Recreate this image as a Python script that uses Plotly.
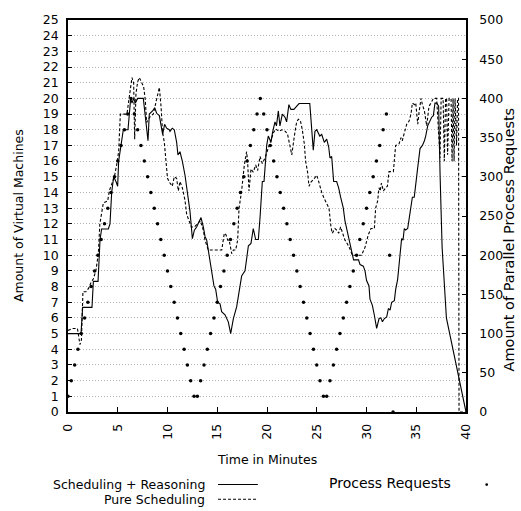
import plotly.graph_objects as go

# ---------------- data ----------------
# Scheduling + Reasoning (VMs)
sr_t = [0, 1.31, 1.47, 2.41, 2.55, 3.02, 3.22, 3.38, 4.05, 4.22, 4.39, 4.59, 4.82, 4.99, 5.09, 5.33,
        5.56, 6.03, 6.16, 6.30, 6.43, 6.60, 6.77, 7.00, 7.57, 8.04, 8.17, 8.50, 8.71, 8.91, 9.18,
        9.51, 9.71, 9.91, 10.18, 10.25, 10.48, 10.68, 10.92, 11.05, 11.25, 11.49, 11.76, 12.03,
        12.26, 12.50, 12.70, 12.93, 13.37, 13.60, 13.77, 13.94, 14.17, 14.44, 14.67, 14.84, 15.04,
        15.28, 15.44, 15.78, 16.11, 16.35, 16.62, 16.95, 17.19, 17.45, 17.79, 18.13, 18.39, 18.62,
        18.86, 19.13, 19.30, 19.53, 19.70, 19.87, 19.97, 20.13, 20.40, 20.55, 20.80, 20.95, 21.14,
        21.30, 21.54, 21.81, 21.97, 22.20, 22.40, 22.70, 22.98, 23.22, 24.30, 24.65, 24.82, 25.00,
        25.30, 25.50, 25.76, 26.00, 26.20, 26.33, 26.50, 26.70, 27.00, 27.20, 27.40, 27.67, 27.83,
        28.10, 28.34, 28.57, 28.70, 29.20, 29.35, 29.68, 29.85, 30.00, 30.25, 30.35, 30.59, 30.79,
        31.02, 31.26, 31.45, 31.60, 31.80, 32.03, 32.20, 32.37, 32.53, 32.80, 32.93, 33.13, 33.27,
        33.40, 33.53, 33.67, 33.80, 33.94, 34.14, 34.28, 34.47, 34.61, 34.80, 34.95, 35.15, 35.38,
        35.62, 35.82, 35.95, 36.15, 36.38, 36.55, 36.72, 36.88, 37.05, 37.25, 37.40, 37.60, 38.03,
        40.00]
sr_v = [5, 5, 6.67, 6.67, 8.33, 8.33, 11.0, 11.67, 11.67, 12, 14, 15, 14.7, 14.4, 16, 17,
        18, 18, 19, 20, 19.7, 20, 19.7, 20, 20, 17.3, 19, 19.2, 19.4, 19.05, 18.9,
        17.7, 18.35, 18.1, 18, 17.9, 18.1, 18, 17.2, 16.4, 16.6, 16, 15.1, 13.9,
        12.8, 11.06, 11.6, 11.8, 12.4, 11.8, 11.2, 10.96, 10.1, 9.1, 8.04, 7.83, 7.0,
        6.9, 6.4, 6.2, 5.75, 5.0, 5.96, 6.7, 7.6, 8.67, 9, 10.6, 10.75, 11.7,
        11, 11, 12.4, 14.7, 14.7, 16.6, 17, 17.6, 17.2, 17.8, 18.5, 18.25, 19.2,
        18.25, 19, 18.8, 18.5, 19.6, 19.3, 19.3, 19.5, 19.67, 19.67, 16.7, 17.9, 18,
        17.6, 17.7, 17.2, 17.4, 16.9, 16.2, 16.3, 14.7, 14.7, 14.3, 13.7, 13.0, 12.2,
        11.4, 10.75, 10.0, 9.7, 9.7, 9.4, 9.3, 9.0, 8.4, 8.04, 7.2, 6.8, 6.17,
        5.33, 5.96, 6.0, 5.75, 5.96, 6.06, 6.6, 6.5, 7.0, 7.1, 7.8, 8.46, 9.3,
        9.9, 11.06, 10.96, 11.7, 11.6, 11.7, 12.3, 13.0, 13.7, 13.7, 14.7, 15.6, 16.8,
        17.0, 17.3, 17.6, 18.25, 18.6, 18.8, 18.9, 19.7, 19.7, 19.5, 15.0, 10.5, 6.0,
        0]

# Pure Scheduling (VMs)
ps_t = [0, 0.50, 0.95, 1.05, 1.20, 1.35, 1.50, 1.81, 2.08, 2.31, 2.55, 2.80, 3.05, 3.20, 3.55,
        3.99, 4.15, 4.49, 4.69, 4.89, 5.09, 5.26, 5.93, 6.03, 6.23, 6.43, 6.60, 6.70, 6.83, 7.00,
        7.17, 7.43, 7.60, 7.77, 7.90, 8.10, 8.34, 8.57, 8.77, 9.01, 9.18, 9.35, 9.51, 9.68, 9.85,
        10.00, 10.25, 10.48, 10.68, 10.92, 11.09, 11.25, 11.49, 11.76, 11.93, 12.10, 12.40, 12.70,
        13.00, 13.30, 13.60, 13.77, 14.10, 15.45, 15.71, 15.88, 16.05, 16.20, 16.45, 16.62, 16.85,
        17.05, 17.19, 17.45, 17.72, 17.95, 18.05, 18.19, 18.39, 18.62, 18.86, 19.06, 19.30, 19.53,
        19.80, 20.30, 20.64, 20.87, 21.20, 21.50, 21.85, 22.07, 22.49, 22.75, 22.98, 23.15, 23.35,
        23.55, 23.75, 23.88, 24.08, 24.22, 24.45, 24.65, 24.99, 25.15, 25.30, 25.50, 25.76, 26.00,
        26.23, 26.43, 26.56, 26.83, 27.00, 27.20, 27.40, 27.60, 27.84, 28.10, 28.34, 28.57, 29.50,
        29.85, 30.00, 30.18, 30.45, 30.79, 30.92, 31.12, 31.26, 31.38, 31.50, 31.70, 31.93, 32.10,
        32.26, 32.70, 32.93, 33.27, 33.47, 33.60, 33.80, 34.04, 34.28, 34.47, 34.61, 34.85, 34.95,
        35.15, 35.28, 35.48, 35.62, 35.82, 36.05, 36.28, 36.48, 36.72, 37.05, 37.39, 37.50, 37.70,
        37.82, 37.95, 38.05, 38.15, 38.30, 38.50, 38.60, 38.70, 38.80, 38.90, 39.05, 39.15, 39.25,
        39.30, 40.00]
ps_v = [5.2, 5.33, 5.33, 4.9, 4.3, 4.6, 7.67, 7.67, 7.9, 8.25, 8.5, 9.0, 10.1, 12.0, 13.33,
        13.46, 14.1, 14.7, 15.1, 15.75, 16.6, 19, 19, 19.5, 20.3, 21.33, 20.96, 17.4, 20.3, 21.06,
        21.33, 20.96, 20.75, 19.9, 18.46, 18.7, 18.9, 19, 19.5, 20.1, 20.7, 19.5, 17.8, 17.2, 16,
        14.9, 14.6, 14.4, 15.0, 14.9, 14.1, 14.7, 14.3, 13.5, 12.6, 12.3, 11.8, 11.8,
        12.0, 12.2, 11.6, 10.96, 10.33, 10.33, 11.4, 11.3, 10.96, 10.96, 10.1, 10.33, 10.33,
        10.96, 13.0, 14.1, 15.75, 16.6, 16, 14.1, 15.5, 15.3, 15.75, 15.4, 16.3, 15.85,
        16.2, 17.2, 17.8, 18.05, 17.9, 18.0, 17.9, 17.7, 16.4, 17.6, 18.5, 18.67, 18.6,
        18.0, 17.1, 16.0, 15.3, 14.4, 14.7, 14.8, 15.1, 14.8, 14.4, 14.0, 13.6, 13.25,
        13.0, 11.8, 11.4, 11.7, 11.6, 11.4, 11.8, 11.4, 10.96, 10.7, 10.4, 10.0, 10.0,
        10.5, 10.96, 11.3, 11.7, 11.7, 13.0, 13.46, 14.3, 14.1, 14.6, 14.1, 14.3, 14.4,
        15.33, 15.33, 17, 17.1, 17.5, 17.3, 17.8, 18.35, 18.56, 19.0, 19.7, 19.6, 19.7,
        18.35, 19.1, 20, 19.6, 19.2, 18.25, 19.5, 19.7, 20, 20, 16.2, 20, 20,
        16, 20, 20, 16.4, 20, 20, 16, 20, 16, 20, 17, 20, 20,
        0, 0]

# Process Requests (parallel requests, right axis), sampled every 20 s
req_t = [0.00, 0.33, 0.67, 1.00, 1.33, 1.67, 2.00, 2.33, 2.67, 3.00, 3.33, 3.67, 4.00, 4.33, 4.67,
         5.00, 5.33, 5.67, 6.00, 6.33, 6.67, 7.00, 7.33, 7.67, 8.00, 8.33, 8.67, 9.00, 9.33, 9.67,
         10.00, 10.33, 10.67, 11.00, 11.33, 11.67, 12.00, 12.33, 12.67, 13.00, 13.33, 13.67, 14.00,
         14.33, 14.67, 15.00, 15.33, 15.67, 16.00, 16.33, 16.67, 17.00, 17.33, 17.67, 18.00, 18.33,
         18.67, 19.00, 19.33, 19.67, 20.00, 20.33, 20.67, 21.00, 21.33, 21.67, 22.00, 22.33, 22.67,
         23.00, 23.33, 23.67, 24.00, 24.33, 24.67, 25.00, 25.33, 25.67, 26.00, 26.33, 26.67, 27.00,
         27.33, 27.67, 28.00, 28.33, 28.67, 29.00, 29.33, 29.67, 30.00, 30.33, 30.67, 31.00, 31.33,
         31.67, 32.00, 32.33, 32.67]
req_v = [20, 40, 60, 80, 100, 120, 140, 160, 180, 200, 220, 240, 260, 280, 300,
         320, 340, 360, 380, 400, 380, 360, 340, 320, 300, 280, 260, 240, 220, 200,
         180, 160, 140, 120, 100, 80, 60, 40, 20, 20, 40, 60, 80,
         100, 120, 140, 160, 180, 200, 220, 240, 260, 280, 300, 320, 340,
         360, 380, 400, 380, 360, 340, 320, 300, 280, 260, 240, 220, 200,
         180, 160, 140, 120, 100, 80, 60, 40, 20, 20, 40, 60, 80,
         100, 120, 140, 160, 180, 200, 220, 240, 260, 280, 300, 320, 340,
         360, 380, 200, 0]

x_ticks = [0, 5, 10, 15, 20, 25, 30, 35, 40]

FONT = "DejaVu Sans"

fig = go.Figure()
fig.add_trace(go.Scatter(x=sr_t, y=sr_v, mode="lines", name="Scheduling + Reasoning",
                         line=dict(color="black", width=1.1), yaxis="y"))
fig.add_trace(go.Scatter(x=ps_t, y=ps_v, mode="lines", name="Pure Scheduling",
                         line=dict(color="black", width=1.1, dash="3px,2px"), yaxis="y"))
fig.add_trace(go.Scatter(x=req_t, y=req_v, mode="markers", name="Process Requests",
                         marker=dict(color="black", size=3.5), yaxis="y2", cliponaxis=False))

axis_font = dict(family=FONT, size=12.5, color="black")

fig.update_layout(
    width=521, height=511,
    margin=dict(l=68, r=55, t=12, b=99),
    paper_bgcolor="white", plot_bgcolor="white",
    showlegend=False,
    font=dict(family=FONT, color="black"),
    xaxis=dict(range=[0, 40], tickvals=x_ticks, ticktext=[str(v) for v in x_ticks],
               tickangle=-90, ticks="inside", ticklen=5, tickcolor="black",
               showline=True, linecolor="black", linewidth=1.5, mirror=True,
               showgrid=False, zeroline=False, tickfont=axis_font, ticklabelstandoff=5),
    yaxis=dict(range=[0, 25], dtick=1, ticks="inside", ticklen=4, tickcolor="black",
               showline=True, linecolor="black", linewidth=1.5,
               showgrid=True, gridcolor="#b4b4b4", griddash="1px,2px", gridwidth=1,
               zeroline=False, tickfont=axis_font, ticklabelstandoff=5),
    yaxis2=dict(range=[0, 500], dtick=50, overlaying="y", side="right",
                ticks="inside", ticklen=4, tickcolor="black",
                showline=True, linecolor="black", linewidth=1.5,
                showgrid=False, zeroline=False, tickfont=axis_font, ticklabelstandoff=9),
)

ann = []
ann.append(dict(text="Time in Minutes", x=0.5, y=-0.12, xref="paper", yref="paper",
                showarrow=False, xanchor="center", yanchor="middle",
                font=dict(family=FONT, size=12.5)))
ann.append(dict(text="Amount of Virtual Machines", x=-0.1256, y=0.5, xref="paper", yref="paper",
                showarrow=False, textangle=-90, xanchor="center", yanchor="middle",
                font=dict(family=FONT, size=12.5)))
ann.append(dict(text="Amount of Parallel Process Requests", x=1.108, y=0.44, xref="paper",
                yref="paper", showarrow=False, textangle=-90, xanchor="center", yanchor="middle",
                font=dict(family=FONT, size=14.5)))
ann.append(dict(text="Scheduling + Reasoning", x=0.349, y=-0.185, xref="paper", yref="paper",
                showarrow=False, xanchor="right", yanchor="middle",
                font=dict(family=FONT, size=12.5)))
ann.append(dict(text="Pure Scheduling", x=0.349, y=-0.2225, xref="paper", yref="paper",
                showarrow=False, xanchor="right", yanchor="middle",
                font=dict(family=FONT, size=12.5)))
ann.append(dict(text="Process Requests", x=0.651, y=-0.18, xref="paper", yref="paper",
                showarrow=False, xanchor="left", yanchor="middle",
                font=dict(family=FONT, size=14)))
fig.update_layout(annotations=ann)

shapes = [
    dict(type="line", xref="paper", yref="paper", x0=0.377, x1=0.477, y0=-0.185, y1=-0.185,
         line=dict(color="black", width=1.1)),
    dict(type="line", xref="paper", yref="paper", x0=0.377, x1=0.477, y0=-0.2225, y1=-0.2225,
         line=dict(color="black", width=1.1, dash="3px,2px")),
    dict(type="circle", xref="paper", yref="paper", x0=1.0485, x1=1.0555, y0=-0.1885,
         y1=-0.1815, fillcolor="black", line=dict(color="black", width=0)),
]
fig.update_layout(shapes=shapes)

fig.write_html("out.html")
